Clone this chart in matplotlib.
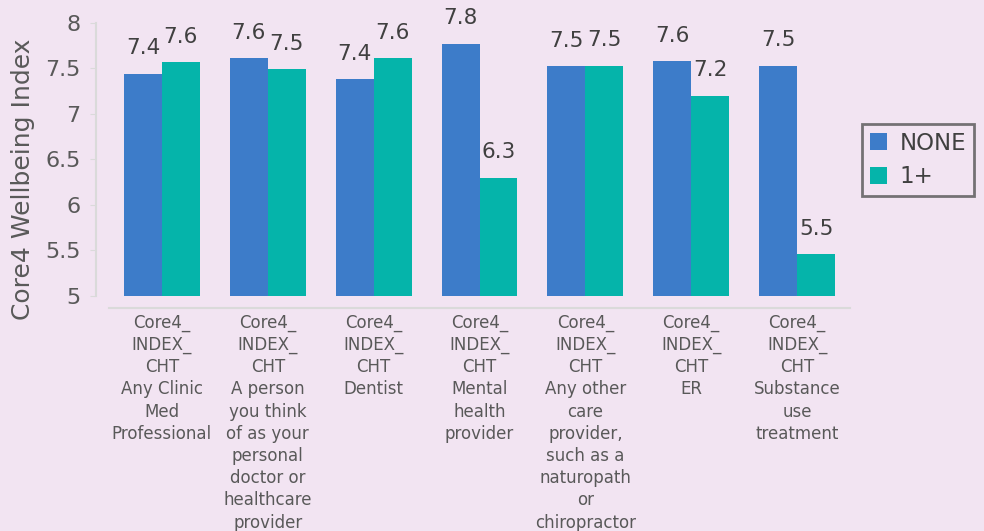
import matplotlib
matplotlib.use("Agg")
import matplotlib.pyplot as plt
import numpy as np

categories = [
    "Core4_\nINDEX_\nCHT\nAny Clinic\nMed\nProfessional",
    "Core4_\nINDEX_\nCHT\nA person\nyou think\nof as your\npersonal\ndoctor or\nhealthcare\nprovider",
    "Core4_\nINDEX_\nCHT\nDentist",
    "Core4_\nINDEX_\nCHT\nMental\nhealth\nprovider",
    "Core4_\nINDEX_\nCHT\nAny other\ncare\nprovider,\nsuch as a\nnaturopath\nor\nchiropractor",
    "Core4_\nINDEX_\nCHT\nER",
    "Core4_\nINDEX_\nCHT\nSubstance\nuse\ntreatment",
]
none_values = [7.44, 7.61, 7.38, 7.77, 7.52, 7.58, 7.53]
plus_values = [7.57, 7.49, 7.61, 6.30, 7.53, 7.20, 5.46]
series_names = ["NONE", "1+"]
y_ticks = [5, 5.5, 6, 6.5, 7, 7.5, 8]
y_tick_labels = ["5", "5.5", "6", "6.5", "7", "7.5", "8"]

bg = "#F2E4F2"
blue = "#3D7CC9"
teal = "#05B4AA"
label_grey = "#595959"
value_grey = "#404040"
axis_grey = "#DADADA"

fig = plt.figure(figsize=(9.84, 5.31), dpi=100, facecolor=bg)
ax = fig.add_axes([109 / 984, 1 - 308 / 531, (850 - 109) / 984, (308 - 22.7) / 531])
ax.set_facecolor(bg)

# axis frame: detached value axis on the left, light baseline below
for s in ("top", "right"):
    ax.spines[s].set_visible(False)
ax.spines["left"].set_position(("outward", 9.5))
ax.spines["left"].set_color(axis_grey)
ax.spines["left"].set_linewidth(1.5)
ax.spines["bottom"].set_color(axis_grey)
ax.spines["bottom"].set_linewidth(1.5)

x = np.arange(len(categories))
w = 0.358
base = 5.0
b1 = ax.bar(x - w / 2, np.array(none_values) - base, w, bottom=base, color=blue, label=series_names[0])
b2 = ax.bar(x + w / 2, np.array(plus_values) - base, w, bottom=base, color=teal, label=series_names[1])

for bars, vals in ((b1, none_values), (b2, plus_values)):
    for rect, v in zip(bars, vals):
        ax.annotate(f"{v:.1f}", (rect.get_x() + rect.get_width() / 2, v),
                    xytext=(0, 11), textcoords="offset points",
                    ha="center", va="bottom", fontsize=15.5, color=value_grey)

ax.set_xlim(-0.5, 6.5)
ax.set_ylim(4.868, 8.0)
ax.spines["left"].set_bounds(5, 8)
ax.set_yticks(y_ticks)
ax.set_yticklabels(y_tick_labels, fontsize=16, color=label_grey)
ax.set_xticks(x)
ax.set_xticklabels(categories, fontsize=12, color=label_grey, linespacing=1.3, va="top")
ax.tick_params(axis="x", length=0, pad=4)
ax.tick_params(axis="y", length=4, color=axis_grey, pad=7)

ax.set_ylabel("Core4 Wellbeing Index", fontsize=18, color=label_grey)
ax.yaxis.set_label_coords(-0.1, 0.45)

leg = ax.legend(loc="center left", bbox_to_anchor=(862 / 984, 1 - 160 / 531),
                bbox_transform=fig.transFigure, fontsize=16.5, frameon=True,
                fancybox=False, edgecolor="#555555", facecolor=bg,
                handlelength=0.75, handleheight=0.75, handletextpad=0.55,
                borderpad=0.35, borderaxespad=0, labelspacing=0.45)
leg.get_frame().set_linewidth(2)
for t in leg.get_texts():
    t.set_color(value_grey)

fig.savefig("out.png", dpi=100, facecolor=bg)
